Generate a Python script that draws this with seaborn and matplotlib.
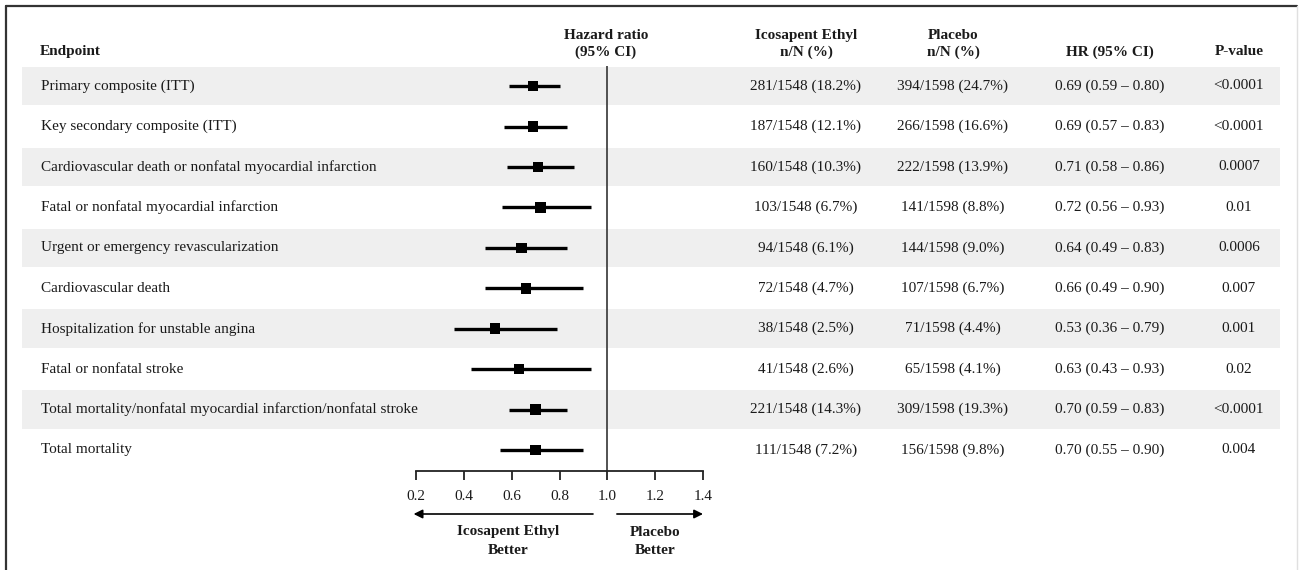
import numpy as np
import pandas as pd
import matplotlib
matplotlib.use("Agg")
import matplotlib.pyplot as plt
from matplotlib import transforms
from matplotlib.lines import Line2D
import seaborn as sns

# ---------------- data ----------------
endpoints = [
    "Primary composite (ITT)",
    "Key secondary composite (ITT)",
    "Cardiovascular death or nonfatal myocardial infarction",
    "Fatal or nonfatal myocardial infarction",
    "Urgent or emergency revascularization",
    "Cardiovascular death",
    "Hospitalization for unstable angina",
    "Fatal or nonfatal stroke",
    "Total mortality/nonfatal myocardial infarction/nonfatal stroke",
    "Total mortality",
]
hr = [0.69, 0.69, 0.71, 0.72, 0.64, 0.66, 0.53, 0.63, 0.70, 0.70]
ci_lo = [0.59, 0.57, 0.58, 0.56, 0.49, 0.49, 0.36, 0.43, 0.59, 0.55]
ci_hi = [0.80, 0.83, 0.86, 0.93, 0.83, 0.90, 0.79, 0.93, 0.83, 0.90]
ie_n = [281, 187, 160, 103, 94, 72, 38, 41, 221, 111]
ie_N = 1548
ie_pct = [18.2, 12.1, 10.3, 6.7, 6.1, 4.7, 2.5, 2.6, 14.3, 7.2]
pl_n = [394, 266, 222, 141, 144, 107, 71, 65, 309, 156]
pl_N = 1598
pl_pct = [24.7, 16.6, 13.9, 8.8, 9.0, 6.7, 4.4, 4.1, 19.3, 9.8]
pvals = ["<0.0001", "<0.0001", "0.0007", "0.01", "0.0006", "0.007",
         "0.001", "0.02", "<0.0001", "0.004"]
xticks = [0.2, 0.4, 0.6, 0.8, 1.0, 1.2, 1.4]

df = pd.DataFrame({"endpoint": endpoints, "hr": hr, "lo": ci_lo, "hi": ci_hi})
df["row"] = np.arange(len(df))

# ---------------- style ----------------
sns.set_theme(style="white")
plt.rcParams["font.family"] = ["Liberation Serif", "DejaVu Serif"]
FS = 11
TXT = "#1a1a1a"

W, H = 1299, 570
fig = plt.figure(figsize=(W / 100, H / 100), dpi=100)

row0_px, pitch = 86, 40.44
def px2row(p):
    return (p - row0_px) / pitch

# background axes: x in pixels, y in row units
ax_bg = fig.add_axes([0, 0, 1, 1])
ax_bg.set_xlim(0, W)
ax_bg.set_ylim(px2row(H), px2row(0))
ax_bg.axis("off")

# zebra stripes
stripe_rows = df["row"].values[::2]
ax_bg.barh(stripe_rows, width=1258, left=22, height=0.95, color="#efefef",
           edgecolor="none", zorder=0)

# frame
fig.add_artist(Line2D([6 / W, 6 / W], [0, 1 - 6 / H], transform=fig.transFigure,
                      color="#333333", lw=1.6))
fig.add_artist(Line2D([6 / W, 1297 / W], [1 - 6 / H, 1 - 6 / H], transform=fig.transFigure,
                      color="#333333", lw=1.6))
fig.add_artist(Line2D([1297 / W, 1297 / W], [0, 1 - 6 / H], transform=fig.transFigure,
                      color="#e0e0e0", lw=1.0))

# forest axes
ax_left, ax_right, ax_top, ax_bottom = 416, 703, 66, 471
ax = fig.add_axes([ax_left / W, 1 - ax_bottom / H, (ax_right - ax_left) / W,
                   (ax_bottom - ax_top) / H])
ax.patch.set_alpha(0)
ax.hlines(df["row"], df["lo"], df["hi"], color="black", lw=2.4, zorder=2)
sns.scatterplot(data=df, x="hr", y="row", marker="s", s=58, color="black",
                edgecolor="none", ax=ax, zorder=3, legend=False)
ax.axvline(1.0, color="#444444", lw=1.3, zorder=1)
ax.set_xlim(0.2, 1.4)
ax.set_ylim(len(df) - 0.5 + 0.02, -0.5)
ax.set_xlabel("")
ax.set_ylabel("")
ax.set_yticks([])
ax.set_xticks(xticks)
ax.set_xticklabels([f"{t:.1f}" for t in xticks])
for s in ["top", "left", "right"]:
    ax.spines[s].set_visible(False)
ax.spines["bottom"].set_color("#222222")
ax.spines["bottom"].set_linewidth(1.3)
ax.tick_params(axis="x", direction="out", length=6.5, width=1.3, color="#222222",
               bottom=True, labelsize=FS, labelcolor=TXT, pad=7.5)

# arrows and direction labels (x in HR units, y in row units)
tr = transforms.blended_transform_factory(ax.transData, ax_bg.transData)
y_arr = px2row(514)
ax_bg.annotate("", xy=(0.19, y_arr), xytext=(0.94, y_arr), xycoords=tr, textcoords=tr,
               arrowprops=dict(arrowstyle="-|>", color="black", lw=1.2,
                               mutation_scale=13, shrinkA=0, shrinkB=0))
ax_bg.annotate("", xy=(1.40, y_arr), xytext=(1.04, y_arr), xycoords=tr, textcoords=tr,
               arrowprops=dict(arrowstyle="-|>", color="black", lw=1.2,
                               mutation_scale=13, shrinkA=0, shrinkB=0))
ax_bg.text(0.585, px2row(541), "Icosapent Ethyl\nBetter", transform=tr, ha="center",
           va="center", fontsize=FS, fontweight="bold", color=TXT, linespacing=1.5)
ax_bg.text(1.199, px2row(541), "Placebo\nBetter", transform=tr, ha="center",
           va="center", fontsize=FS, fontweight="bold", color=TXT, linespacing=1.5)

# headers
hdr_y1, hdr_y2 = px2row(36), px2row(52)
ax_bg.text(40, hdr_y2, "Endpoint", ha="left", va="center", fontsize=FS,
           fontweight="bold", color=TXT)
col_hr_plot, col_ie, col_pl, col_hrci, col_p = 606, 806, 953, 1110, 1239
for x, l1, l2 in [(col_hr_plot, "Hazard ratio", "(95% CI)"),
                  (col_ie, "Icosapent Ethyl", "n/N (%)"),
                  (col_pl, "Placebo", "n/N (%)")]:
    ax_bg.text(x, hdr_y1, l1, ha="center", va="center", fontsize=FS,
               fontweight="bold", color=TXT)
    ax_bg.text(x, hdr_y2, l2, ha="center", va="center", fontsize=FS,
               fontweight="bold", color=TXT)
ax_bg.text(col_hrci, hdr_y2, "HR (95% CI)", ha="center", va="center", fontsize=FS,
           fontweight="bold", color=TXT)
ax_bg.text(col_p, hdr_y2, "P-value", ha="center", va="center", fontsize=FS,
           fontweight="bold", color=TXT)

# table body
for i in range(len(df)):
    r = df["row"].iloc[i]
    ax_bg.text(41, r, endpoints[i], ha="left", va="center", fontsize=FS, color=TXT)
    ax_bg.text(col_ie, r, f"{ie_n[i]}/{ie_N} ({ie_pct[i]:.1f}%)", ha="center",
               va="center", fontsize=FS, color=TXT)
    ax_bg.text(col_pl, r, f"{pl_n[i]}/{pl_N} ({pl_pct[i]:.1f}%)", ha="center",
               va="center", fontsize=FS, color=TXT)
    ax_bg.text(col_hrci, r, f"{hr[i]:.2f} ({ci_lo[i]:.2f} \u2013 {ci_hi[i]:.2f})",
               ha="center", va="center", fontsize=FS, color=TXT)
    ax_bg.text(col_p, r, pvals[i], ha="center", va="center", fontsize=FS, color=TXT)

fig.savefig("out.png", dpi=100)
